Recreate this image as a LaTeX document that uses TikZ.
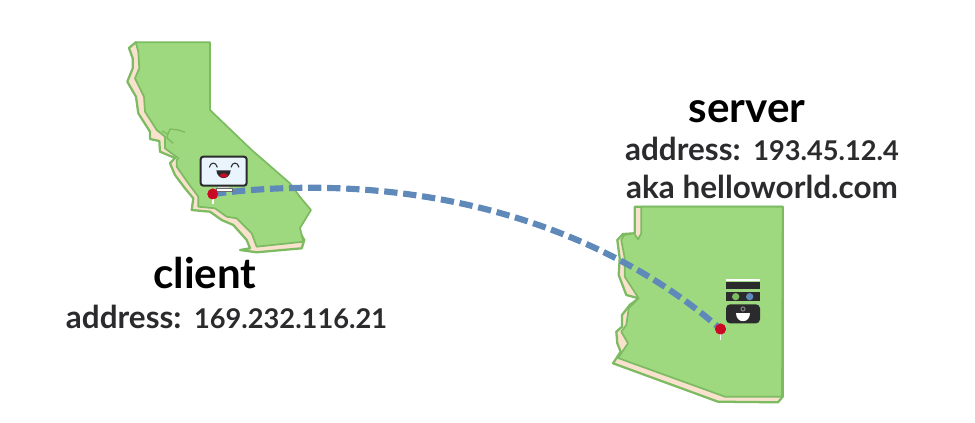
\documentclass[tikz,border=0pt]{standalone}
\usepackage{fontspec}
\setmainfont{Lato}
\definecolor{landgreen}{HTML}{9FD97F}
\definecolor{edgegreen}{HTML}{7CBB62}
\definecolor{beach}{HTML}{F9E1CE}
\definecolor{routeblue}{HTML}{5F89B9}
\definecolor{pinred}{HTML}{C90A22}
\definecolor{inkdark}{HTML}{2B2B2D}
\definecolor{screenblue}{HTML}{EAF4FC}
\newcommand{\addrline}[1]{address:\hspace{9.5pt}{\fontsize{20.4}{21}\selectfont #1}}
\tikzset{
  x=0.75pt,y=-0.75pt,
  coast/.style={fill=beach,draw=edgegreen,line width=1.7pt,line join=round},
  land/.style={fill=landgreen,draw=edgegreen,line width=1.3pt,line join=round},
  title/.style={inner sep=0pt,font=\bfseries\fontsize{31.6}{32}\selectfont,text=black,anchor=base},
  info/.style={inner sep=0pt,font=\bfseries\fontsize{23.6}{24}\selectfont,text=inkdark,anchor=base},
  pinhead/.style={circle,fill=pinred,inner sep=0pt,minimum size=8.2pt},
  route/.style={routeblue,line width=4.6pt,dash pattern=on 10pt off 4.3pt},
  zoomA/.style={shift={(110,30)},x=0.25pt,y=-0.25pt},
  zoomB/.style={shift={(600,200)},x=0.25pt,y=-0.25pt}
}
\begin{document}
\begin{tikzpicture}
\useasboundingbox (0,0) rectangle (975,422);
% California
\draw[coast] (135.7,42.3) -- (129,48) -- (132.7,58.3) -- (132.7,68.3) -- (127.3,81.7) -- (136,96.7) -- (138.3,113.3) -- (150,131.7) -- (150,139) -- (159.3,141) -- (160,151.7) -- (175,158) -- (170,163.3) -- (175,175) -- (185,188.3) -- (193.3,198.3) -- (191.7,210) -- (210,211.7) -- (221.7,220) -- (233.3,225) -- (246.7,240) -- (250,248.3) -- (240,250) -- (256.7,252.3) -- (301.7,248.3) -- (304.3,240) -- (250,150) -- cycle;
\draw[land] (135.7,42.3) -- (210,42.3) -- (210,110) -- (251.7,150) -- (290,183.3) -- (300,197) -- (311,210) -- (300,228) -- (303.3,241.7) -- (256.7,246.7) -- (251.7,233.3) -- (236.7,218.3) -- (226.7,216.7) -- (215,208.3) -- (198.3,206.7) -- (198.3,196.7) -- (188.3,183.3) -- (176.7,166.7) -- (176.7,160) -- (178.3,158.3) -- (165,148.3) -- (165,136.7) -- (156.7,130) -- (145,111.7) -- (144,96.7) -- (135,78.3) -- (139.3,68.3) -- (138.3,51.7) -- cycle;
\draw[edgegreen,line width=1pt,line join=round] (162,131) -- (168,134) -- (170,129) -- (178.3,130) -- (185,132.3) (168,133) -- (167,138) -- (173.3,143.3);
% Arizona
\draw[coast] (634.7,206.7) -- (634.7,233.3) -- (623,234) -- (617.3,240) -- (619.7,258.3) -- (618.7,275) -- (626.3,295) -- (638.7,298.3) -- (629.7,305) -- (622,315) -- (622,326.7) -- (616.3,331.7) -- (617.3,343.3) -- (620.7,351.7) -- (613,363.3) -- (718,401.7) -- (778,402.3) -- (782.7,396.7) -- (782.7,206.7) -- cycle;
\draw[land] (641.3,206.7) -- (641.3,233.3) -- (638,239.3) -- (634,233.3) -- (624,235) -- (621.3,240) -- (624.7,258.3) -- (624.7,276.7) -- (638.7,298.3) -- (628.7,308.3) -- (626.3,325) -- (621.3,331.7) -- (628,343.3) -- (618,358) -- (725,396.7) -- (782,396.7) -- (782.7,206.7) -- cycle;
% Pins and route
\node[pinhead] (clientpin) at (213,194) {};
\node[pinhead] (serverpin) at (720.5,329) {};
\draw[route] (clientpin.center) .. controls (400,170) and (590,215) .. (serverpin.center);
\draw[white,line width=0.8pt] (clientpin.center) -- +(0,10);
\draw[white,line width=0.8pt] (serverpin.center) -- +(0,11);
\node[pinhead] at (serverpin.center) {};
% Monitor
\begin{scope}[zoomA]
\fill[white,draw=inkdark!70,line width=0.5pt] (318,475) rectangle (368,485);
\fill[white!85!black] (325,467) rectangle (358,475);
\fill[pinred] (308,492) circle (16);
\draw[fill=screenblue,draw=inkdark,line width=1.5pt,rounded corners=2pt] (272,380) rectangle (410,467);
\draw[inkdark,line width=0.8pt] (298,412) .. controls (302,395) and (318,395) .. (322,412);
\draw[inkdark,line width=0.8pt] (363,412) .. controls (367,395) and (383,395) .. (387,412);
\fill[inkdark] (319,421) -- (362,421) .. controls (360,452) and (322,452) .. (319,421) -- cycle;
\fill[pinred] (329,437) .. controls (335,427) and (347,427) .. (354,437) .. controls (346,445) and (336,445) .. (329,437) -- cycle;
\end{scope}
% Server
\begin{scope}[zoomB]
\fill[white] (378,238) rectangle (480,242);
\fill[inkdark] (378,245) rectangle (480,267);
\fill[inkdark] (378,276) rectangle (480,304);
\fill[edgegreen] (407,290) circle (11);
\fill[routeblue] (449,290) circle (11);
\fill[inkdark,rounded corners=3pt] (378,313) -- (480,313) -- (480,370) -- (378,370) -- cycle;
\fill[white] (408,339) -- (450,339) .. controls (450,372) and (408,372) .. (408,339) -- cycle;
\draw[gray,line width=0.8pt] (429,327) circle (6);
\end{scope}
% Labels
\node[title] (clientlabel) at (205,288) {client};
\node[info] (clientaddr) at (226.5,328) {\addrline{169.232.116.21}};
\node[title] (serverlabel) at (747,122) {server};
\node[info] (serveraddr) at (762,160) {\addrline{193.45.12.4}};
\node[info] (serveraka) at (762,198) {aka helloworld.com};
\end{tikzpicture}
\end{document}
